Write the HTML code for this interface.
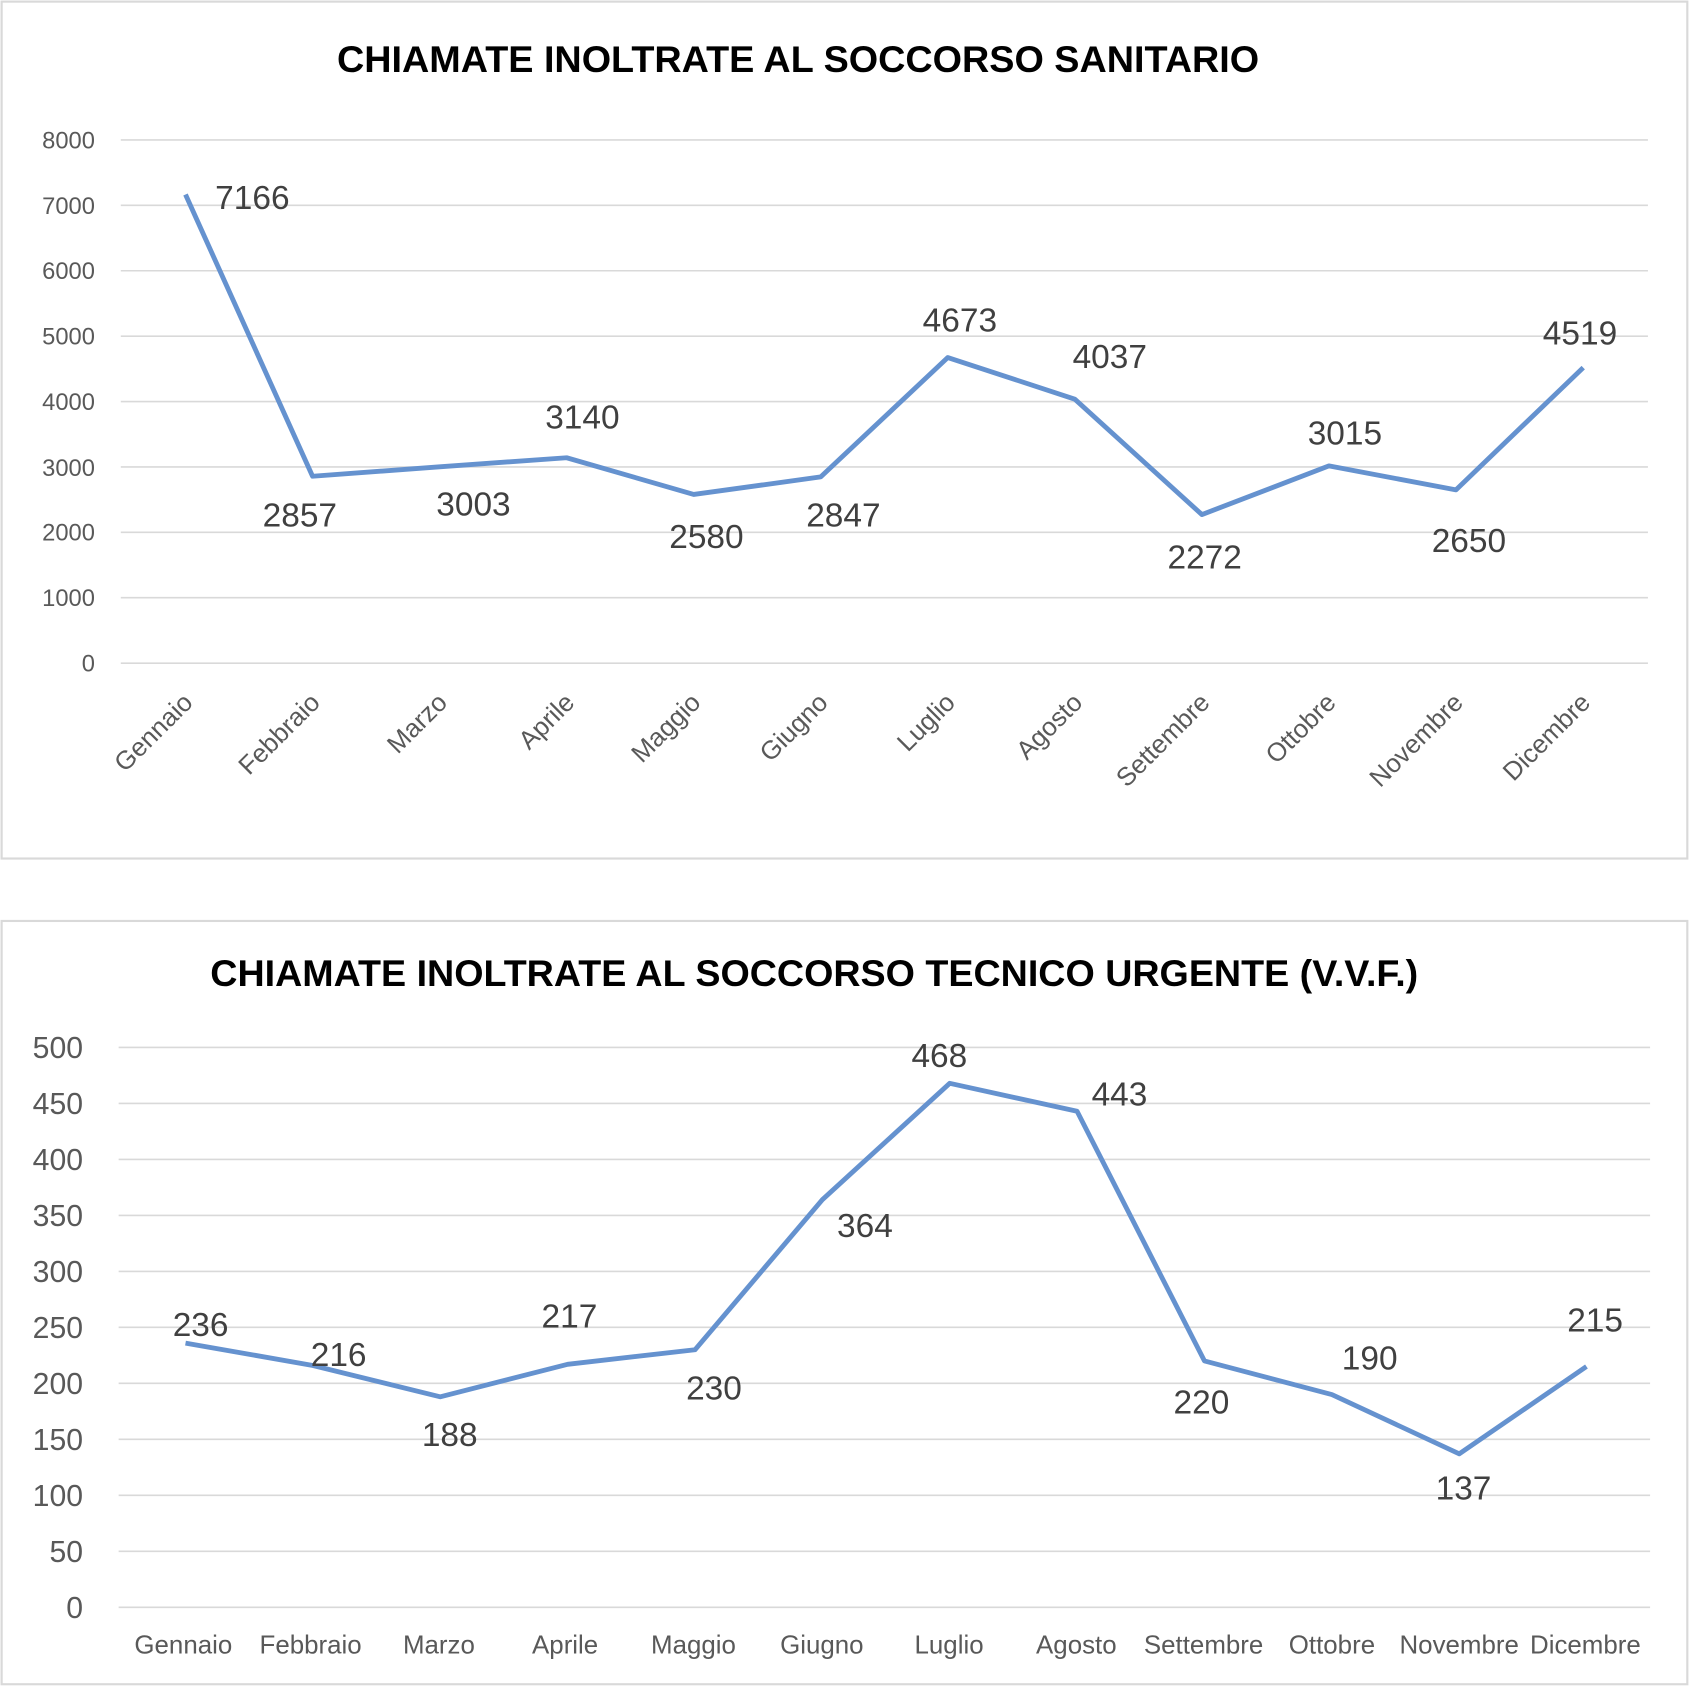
<!DOCTYPE html>
<html><head><meta charset="utf-8"><style>
html,body{margin:0;padding:0;background:#fff;}
svg{display:block;}
text{font-family:"Liberation Sans Narrow","Liberation Sans",sans-serif;}
</style></head><body>
<svg width="1690" height="1688" viewBox="0 0 1567 1568" preserveAspectRatio="none" xmlns="http://www.w3.org/2000/svg">
<rect x="0" y="0" width="1567" height="1568" fill="#fff"/>
<rect x="1.5" y="1.5" width="1563" height="796" fill="#fff" stroke="#d9d9d9" stroke-width="2"/>
<text x="740" y="67" text-anchor="middle" font-size="34" font-weight="bold" fill="#000" textLength="855" lengthAdjust="spacingAndGlyphs">CHIAMATE INOLTRATE AL SOCCORSO SANITARIO</text>
<g stroke="#d9d9d9" stroke-width="1.5">
<line x1="112" y1="130" x2="1528" y2="130"/><line x1="112" y1="190.75" x2="1528" y2="190.75"/>
<line x1="112" y1="251.5" x2="1528" y2="251.5"/><line x1="112" y1="312.25" x2="1528" y2="312.25"/>
<line x1="112" y1="373" x2="1528" y2="373"/><line x1="112" y1="433.75" x2="1528" y2="433.75"/>
<line x1="112" y1="494.5" x2="1528" y2="494.5"/><line x1="112" y1="555.25" x2="1528" y2="555.25"/>
<line x1="112" y1="616" x2="1528" y2="616"/>
</g>
<g font-size="22" fill="#595959" text-anchor="end">
<text x="88" y="138">8000</text><text x="88" y="199">7000</text><text x="88" y="259">6000</text>
<text x="88" y="320">5000</text><text x="88" y="381">4000</text><text x="88" y="442">3000</text>
<text x="88" y="502">2000</text><text x="88" y="563">1000</text><text x="88" y="624">0</text>
</g>
<polyline fill="none" stroke="#6592cf" stroke-width="4.5" stroke-linejoin="round" points="172,180.7 289.8,442.4 407.6,433.6 525.4,425.2 643.2,459.3 761,443 878.8,332.1 996.6,370.8 1114.4,478 1232.2,432.8 1350,455 1468,341.5"/>
<g font-size="24" fill="#595959" text-anchor="end">
<text transform="translate(180,654) rotate(-45)">Gennaio</text>
<text transform="translate(298,654) rotate(-45)">Febbraio</text>
<text transform="translate(416,654) rotate(-45)">Marzo</text>
<text transform="translate(534,654) rotate(-45)">Aprile</text>
<text transform="translate(651,654) rotate(-45)">Maggio</text>
<text transform="translate(769,654) rotate(-45)">Giugno</text>
<text transform="translate(887,654) rotate(-45)">Luglio</text>
<text transform="translate(1005,654) rotate(-45)">Agosto</text>
<text transform="translate(1123,654) rotate(-45)">Settembre</text>
<text transform="translate(1240,654) rotate(-45)">Ottobre</text>
<text transform="translate(1358,654) rotate(-45)">Novembre</text>
<text transform="translate(1476,654) rotate(-45)">Dicembre</text>
</g>
<g font-size="31" fill="#404040" text-anchor="middle">
<text x="234" y="194">7166</text><text x="278" y="489">2857</text><text x="439" y="479">3003</text>
<text x="540" y="398">3140</text><text x="655" y="509">2580</text><text x="782" y="489">2847</text>
<text x="890" y="308">4673</text><text x="1029" y="342">4037</text><text x="1117" y="528">2272</text>
<text x="1247" y="413">3015</text><text x="1362" y="513">2650</text><text x="1465" y="320">4519</text>
</g>
<rect x="1.5" y="855.5" width="1563" height="709" fill="#fff" stroke="#d9d9d9" stroke-width="2"/>
<text x="755" y="916" text-anchor="middle" font-size="34" font-weight="bold" fill="#000" textLength="1120" lengthAdjust="spacingAndGlyphs">CHIAMATE INOLTRATE AL SOCCORSO TECNICO URGENTE (V.V.F.)</text>
<g stroke="#d9d9d9" stroke-width="1.5">
<line x1="110" y1="973" x2="1530" y2="973"/><line x1="110" y1="1025" x2="1530" y2="1025"/>
<line x1="110" y1="1077" x2="1530" y2="1077"/><line x1="110" y1="1129" x2="1530" y2="1129"/>
<line x1="110" y1="1181" x2="1530" y2="1181"/><line x1="110" y1="1233" x2="1530" y2="1233"/>
<line x1="110" y1="1285" x2="1530" y2="1285"/><line x1="110" y1="1337" x2="1530" y2="1337"/>
<line x1="110" y1="1389" x2="1530" y2="1389"/><line x1="110" y1="1441" x2="1530" y2="1441"/>
<line x1="110" y1="1493" x2="1530" y2="1493"/>
</g>
<g font-size="28" fill="#595959" text-anchor="end">
<text x="77" y="983">500</text><text x="77" y="1035">450</text><text x="77" y="1087">400</text>
<text x="77" y="1139">350</text><text x="77" y="1191">300</text><text x="77" y="1243">250</text>
<text x="77" y="1295">200</text><text x="77" y="1347">150</text><text x="77" y="1399">100</text>
<text x="77" y="1451">50</text><text x="77" y="1503">0</text>
</g>
<polyline fill="none" stroke="#6592cf" stroke-width="4.5" stroke-linejoin="round" points="172,1247.6 290.1,1268.4 408.2,1297.5 526.3,1267.3 644.4,1253.8 762.5,1114.4 880.6,1006.3 998.7,1032.3 1116.8,1264.2 1234.9,1295.4 1353,1350.5 1471,1269.4"/>
<g font-size="24" fill="#595959" text-anchor="middle">
<text x="170" y="1536">Gennaio</text><text x="288" y="1536">Febbraio</text><text x="407" y="1536">Marzo</text>
<text x="524" y="1536">Aprile</text><text x="643" y="1536">Maggio</text><text x="762" y="1536">Giugno</text>
<text x="880" y="1536">Luglio</text><text x="998" y="1536">Agosto</text><text x="1116" y="1536">Settembre</text>
<text x="1235" y="1536">Ottobre</text><text x="1353" y="1536">Novembre</text><text x="1470" y="1536">Dicembre</text>
</g>
<g font-size="31" fill="#404040" text-anchor="middle">
<text x="186" y="1241">236</text><text x="314" y="1269">216</text><text x="417" y="1343">188</text>
<text x="528" y="1233">217</text><text x="662" y="1300">230</text><text x="802" y="1149">364</text>
<text x="871" y="991">468</text><text x="1038" y="1027">443</text><text x="1114" y="1313">220</text>
<text x="1270" y="1272">190</text><text x="1357" y="1393">137</text><text x="1479" y="1237">215</text>
</g>
</svg>
</body></html>
